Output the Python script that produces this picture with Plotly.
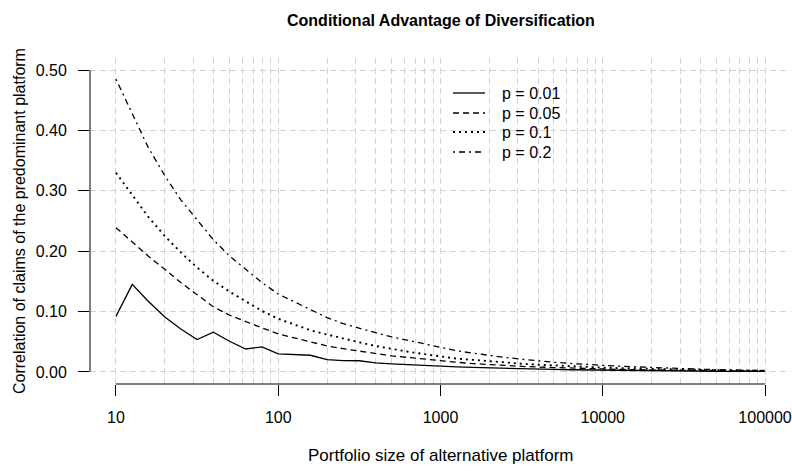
import plotly.graph_objects as go

# ---------------- data ----------------
portfolio_size = [10, 12.6, 15.8, 20, 25.1, 31.6, 39.8, 50.1, 63.1, 79.4,
                  100, 126, 158, 200, 251, 316, 398, 501, 631, 794,
                  1000, 1259, 1585, 1995, 2512, 3162, 3981, 5012, 6310, 7943,
                  10000, 12589, 15849, 19953, 25119, 31623, 39811, 50119, 63096, 79433,
                  100000]

corr_p001 = [0.092, 0.145, 0.117, 0.091, 0.071, 0.0535, 0.0657, 0.0508, 0.038, 0.0415,
             0.030, 0.029, 0.0276, 0.0204, 0.0188, 0.0185, 0.015, 0.0135, 0.012, 0.0105,
             0.0092, 0.0085, 0.0075, 0.0066, 0.006, 0.0053, 0.0047, 0.0041, 0.0036, 0.0032,
             0.0028, 0.0025, 0.0022, 0.0019, 0.0017, 0.0015, 0.0013, 0.0011, 0.001, 0.0009,
             0.0008]
corr_p005 = [0.239, 0.215, 0.192, 0.170, 0.148, 0.128, 0.108, 0.094, 0.083, 0.073,
             0.063, 0.056, 0.049, 0.043, 0.0385, 0.0345, 0.030, 0.0265, 0.024, 0.021,
             0.0185, 0.016, 0.0138, 0.012, 0.0105, 0.0092, 0.0081, 0.0071, 0.0062, 0.0055,
             0.0048, 0.0042, 0.0037, 0.0033, 0.0029, 0.0025, 0.0022, 0.0019, 0.0016, 0.0014,
             0.0012]
corr_p01 = [0.330, 0.293, 0.257, 0.225, 0.198, 0.173, 0.151, 0.133, 0.117, 0.101,
            0.088, 0.078, 0.069, 0.062, 0.055, 0.049, 0.043, 0.038, 0.0335, 0.0295,
            0.0255, 0.022, 0.020, 0.0176, 0.0155, 0.0136, 0.012, 0.0105, 0.0093, 0.0082,
            0.0072, 0.0063, 0.0056, 0.0049, 0.0043, 0.0037, 0.0032, 0.0028, 0.0024, 0.0021,
            0.0018]
corr_p02 = [0.485, 0.428, 0.372, 0.325, 0.285, 0.252, 0.219, 0.192, 0.170, 0.148,
            0.129, 0.116, 0.102, 0.090, 0.080, 0.072, 0.065, 0.058, 0.052, 0.046,
            0.040, 0.035, 0.031, 0.027, 0.024, 0.021, 0.018, 0.016, 0.014, 0.012,
            0.011, 0.0095, 0.0083, 0.0072, 0.0062, 0.0053, 0.0045, 0.0038, 0.0032, 0.0027,
            0.0023]

series_names = ["p = 0.01", "p = 0.05", "p = 0.1", "p = 0.2"]
x_tick_vals = [10, 100, 1000, 10000, 100000]
x_tick_text = ["10", "100", "1000", "10000", "100000"]
x_minor_vals = [m * 10 ** k for k in range(1, 5) for m in range(2, 10)]
y_tick_vals = [0.0, 0.1, 0.2, 0.3, 0.4, 0.5]
y_tick_text = ["0.00", "0.10", "0.20", "0.30", "0.40", "0.50"]

# ---------------- style ----------------
FONT = "Liberation Sans, Arial, Helvetica, sans-serif"
W, H = 792, 471
L, R, T, B = 90, 1, 58, 87
PW, PH = W - L - R, H - T - B
XR = [0.84, 5.16]
YR = [-0.02, 0.52]
dashes = ["solid", "6px,4px", "2px,4px", "2px,4px,6px,4px"]
widths = [1.3, 1.3, 1.9, 1.3]
GRID = "#d3d3d3"
GRIDDASH = "6px,4px"


def px_to_paper_x(px):
    return (px - L) / PW


def px_to_paper_y(py):
    return (T + PH - py) / PH


fig = go.Figure()
for name, ys, dash, wd in zip(series_names, [corr_p001, corr_p005, corr_p01, corr_p02], dashes, widths):
    fig.add_trace(go.Scatter(x=portfolio_size, y=ys, mode="lines", name=name,
                             line=dict(color="black", width=wd, dash=dash),
                             showlegend=False))

shapes = []
# axis lines (R style: span first to last tick)
xa0 = (1 - XR[0]) / (XR[1] - XR[0])
xa1 = (5 - XR[0]) / (XR[1] - XR[0])
shapes.append(dict(type="line", xref="paper", yref="paper", x0=xa0, x1=xa1, y0=0, y1=0,
                   line=dict(color="black", width=1)))
shapes.append(dict(type="line", xref="paper", yref="y", x0=0, x1=0, y0=0, y1=0.5,
                   line=dict(color="black", width=1)))

annotations = []
# legend (no box)
leg_rows = [93, 113, 132, 152]
for name, dash, wd, row in zip(series_names, dashes, widths, leg_rows):
    shapes.append(dict(type="line", xref="paper", yref="paper",
                       x0=px_to_paper_x(453), x1=px_to_paper_x(485),
                       y0=px_to_paper_y(row), y1=px_to_paper_y(row),
                       line=dict(color="black", width=wd, dash=dash)))
    annotations.append(dict(text=name, xref="paper", yref="paper",
                            x=px_to_paper_x(500), y=px_to_paper_y(row),
                            xanchor="left", yanchor="middle", showarrow=False,
                            font=dict(size=16, color="black", family=FONT)))

# titles
annotations.append(dict(text="<b>Conditional Advantage of Diversification</b>",
                        xref="paper", yref="paper", x=0.5, y=px_to_paper_y(20),
                        xanchor="center", yanchor="middle", showarrow=False,
                        font=dict(size=16, color="black", family=FONT)))
annotations.append(dict(text="Portfolio size of alternative platform",
                        xref="paper", yref="paper", x=0.5, y=px_to_paper_y(455),
                        xanchor="center", yanchor="middle", showarrow=False,
                        font=dict(size=17, color="black", family=FONT)))
annotations.append(dict(text="Correlation of claims of the predominant platform",
                        xref="paper", yref="paper", x=px_to_paper_x(19), y=0.5,
                        xanchor="center", yanchor="middle", showarrow=False, textangle=-90,
                        font=dict(size=16, color="black", family=FONT)))

fig.update_layout(
    width=W, height=H,
    margin=dict(l=L, r=R, t=T, b=B, pad=0),
    paper_bgcolor="white", plot_bgcolor="white",
    font=dict(family=FONT, size=16, color="black"),
    shapes=shapes, annotations=annotations,
    showlegend=False,
    xaxis=dict(type="log", range=XR, showline=False, zeroline=False,
               tickmode="array", tickvals=x_tick_vals, ticktext=x_tick_text,
               ticks="outside", ticklen=11, tickwidth=1, tickcolor="black",
               ticklabelstandoff=8,
               tickfont=dict(size=16, family=FONT, color="black"),
               showgrid=True, gridcolor=GRID, griddash=GRIDDASH, gridwidth=1,
               minor=dict(tickmode="array", tickvals=x_minor_vals, ticks="",
                          showgrid=True, gridcolor=GRID, griddash=GRIDDASH, gridwidth=1)),
    yaxis=dict(range=YR, showline=False, zeroline=False,
               tickmode="array", tickvals=y_tick_vals, ticktext=y_tick_text,
               ticks="outside", ticklen=11, tickwidth=1, tickcolor="black",
               ticklabelstandoff=8,
               tickfont=dict(size=16, family=FONT, color="black"),
               showgrid=True, gridcolor=GRID, griddash=GRIDDASH, gridwidth=1),
)

fig.write_html("out.html")
